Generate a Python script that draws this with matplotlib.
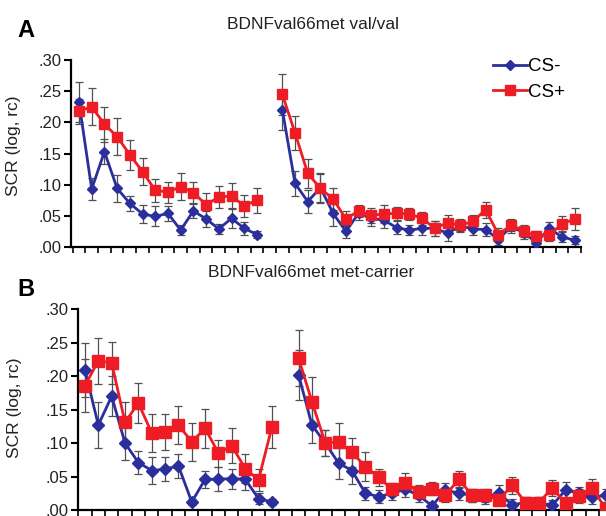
import matplotlib.pyplot as plt
import numpy as np

plt.rcParams['font.family'] = ['Liberation Sans', 'DejaVu Sans']

nan = np.nan

# trial slots: 15 trials, one empty slot, 24 trials
trials = np.arange(40)

# Panel A: val/val
a_csm = [0.232, 0.093, 0.153, 0.094, 0.070, 0.053, 0.049, 0.054, 0.027, 0.058, 0.045, 0.029, 0.046, 0.030, 0.020,
         nan,
         0.220, 0.102, 0.073, 0.095, 0.054, 0.025, 0.054, 0.046, 0.043, 0.031, 0.027, 0.030, 0.030, 0.022, 0.034,
         0.029, 0.028, 0.012, 0.033, 0.023, 0.007, 0.030, 0.016, 0.011]
a_csp = [0.218, 0.225, 0.197, 0.177, 0.148, 0.121, 0.091, 0.088, 0.097, 0.087, 0.068, 0.080, 0.082, 0.066, 0.075,
         nan,
         0.245, 0.183, 0.118, 0.094, 0.077, 0.045, 0.058, 0.051, 0.053, 0.054, 0.053, 0.046, 0.030, 0.039, 0.035,
         0.041, 0.060, 0.020, 0.035, 0.026, 0.017, 0.019, 0.037, 0.045]
a_csm_err = [0.032, 0.018, 0.020, 0.021, 0.012, 0.015, 0.016, 0.012, 0.008, 0.012, 0.013, 0.008, 0.015, 0.010, 0.006,
             nan,
             0.032, 0.020, 0.019, 0.022, 0.020, 0.010, 0.010, 0.012, 0.012, 0.010, 0.008, 0.010, 0.012, 0.012, 0.010,
             0.010, 0.010, 0.008, 0.010, 0.010, 0.006, 0.010, 0.008, 0.006]
a_csp_err = [0.020, 0.030, 0.028, 0.030, 0.024, 0.022, 0.018, 0.017, 0.022, 0.018, 0.018, 0.018, 0.020, 0.018, 0.020,
             nan,
             0.033, 0.027, 0.023, 0.024, 0.017, 0.012, 0.010, 0.012, 0.014, 0.010, 0.010, 0.010, 0.012, 0.012, 0.010,
             0.010, 0.013, 0.010, 0.010, 0.010, 0.008, 0.010, 0.012, 0.018]

# Panel B: met-carrier
b_csm = [0.209, 0.127, 0.170, 0.100, 0.071, 0.059, 0.061, 0.066, 0.012, 0.046, 0.046, 0.047, 0.046, 0.017, 0.012,
         nan,
         0.202, 0.127, 0.100, 0.070, 0.059, 0.025, 0.020, 0.025, 0.031, 0.022, 0.006, 0.030, 0.025, 0.022, 0.019,
         0.025, 0.008, 0.011, 0.011, 0.007, 0.030, 0.025, 0.019, 0.022]
b_csp = [0.186, 0.223, 0.220, 0.131, 0.160, 0.115, 0.117, 0.127, 0.102, 0.122, 0.085, 0.096, 0.062, 0.045, 0.124,
         nan,
         0.227, 0.162, 0.100, 0.102, 0.086, 0.065, 0.049, 0.031, 0.041, 0.027, 0.032, 0.022, 0.046, 0.022, 0.022,
         0.015, 0.037, 0.011, 0.011, 0.033, 0.010, 0.021, 0.033, 0.002]
b_csm_err = [0.040, 0.034, 0.030, 0.025, 0.017, 0.020, 0.018, 0.018, 0.005, 0.013, 0.018, 0.015, 0.016, 0.008, 0.004,
             nan,
             0.037, 0.027, 0.020, 0.023, 0.020, 0.010, 0.010, 0.010, 0.012, 0.010, 0.006, 0.010, 0.010, 0.010, 0.010,
             0.012, 0.008, 0.008, 0.008, 0.008, 0.012, 0.010, 0.010, 0.010]
b_csp_err = [0.040, 0.034, 0.031, 0.030, 0.030, 0.029, 0.027, 0.029, 0.028, 0.029, 0.020, 0.026, 0.022, 0.017, 0.032,
             nan,
             0.042, 0.037, 0.020, 0.028, 0.021, 0.021, 0.013, 0.010, 0.014, 0.010, 0.010, 0.010, 0.013, 0.010, 0.010,
             0.008, 0.013, 0.008, 0.008, 0.012, 0.008, 0.010, 0.013, 0.010]

yticks = [0, 0.05, 0.10, 0.15, 0.20, 0.25, 0.30]
ytick_labels = ['.00', '.05', '.10', '.15', '.20', '.25', '.30']

blue = '#2b2f9c'
red = '#ee1c25'
err_col = '#505050'
txt_col = '#222222'

fig = plt.figure(figsize=(6.06, 5.16), dpi=100)
ax_a = fig.add_axes([0.1178, 0.5213, 0.8409, 0.3624])
ax_b = fig.add_axes([0.1292, 0.0116, 0.8812, 0.3890])


def draw_panel(ax, csm, csm_err, csp, csp_err, xlim, msq, mdi, label_xy):
    ax.errorbar(trials, csm, yerr=csm_err, fmt='none', ecolor=err_col, elinewidth=0.9, capsize=3, capthick=0.9,
                zorder=1)
    ax.errorbar(trials, csp, yerr=csp_err, fmt='none', ecolor=err_col, elinewidth=0.9, capsize=3, capthick=0.9,
                zorder=1)
    ax.plot(trials, csm, color=blue, lw=2, marker='D', ms=mdi, label='CS-', zorder=3)
    ax.plot(trials, csp, color=red, lw=2, marker='s', ms=msq, label='CS+', zorder=4)
    ax.set_xlim(*xlim)
    ax.set_ylim(0, 0.30)
    ax.set_xticks(np.arange(-0.5, 40, 1))
    ax.set_xticklabels([])
    ax.set_yticks(yticks)
    ax.set_yticklabels(ytick_labels)
    ax.spines['top'].set_visible(False)
    ax.spines['right'].set_visible(False)
    ax.spines['left'].set_linewidth(1.6)
    ax.spines['bottom'].set_linewidth(1.6)
    ax.tick_params(axis='x', direction='out', length=4.5, width=1.2)
    ax.tick_params(axis='y', direction='out', length=5, width=1.5, labelsize=12, pad=2, labelcolor=txt_col)
    ax.set_ylabel('SCR (log, rc)', fontsize=12.5, color=txt_col)
    ax.yaxis.set_label_coords(*label_xy)


draw_panel(ax_a, a_csm, a_csm_err, a_csp, a_csp_err, (-0.6, 39.5), 7.8, 5.6, (-0.099, 0.54))
draw_panel(ax_b, b_csm, b_csm_err, b_csp, b_csp_err, (-0.5, 39.5), 8.2, 6.0, (-0.105, 0.51))

ax_a.legend(loc='upper left', bbox_to_anchor=(0.827, 1.01), frameon=False, fontsize=13.5, handlelength=1.8,
            handletextpad=0.1, labelspacing=0.45, borderaxespad=0, borderpad=0)

fig.text(0.517, 0.952, 'BDNFval66met val/val', ha='center', va='center', fontsize=12.5, color=txt_col)
fig.text(0.513, 0.472, 'BDNFval66met met-carrier', ha='center', va='center', fontsize=12.5, color=txt_col)
fig.text(0.029, 0.94, 'A', ha='left', va='center', fontsize=17, fontweight='bold')
fig.text(0.029, 0.438, 'B', ha='left', va='center', fontsize=17, fontweight='bold')

fig.savefig('out.png', dpi=100)
